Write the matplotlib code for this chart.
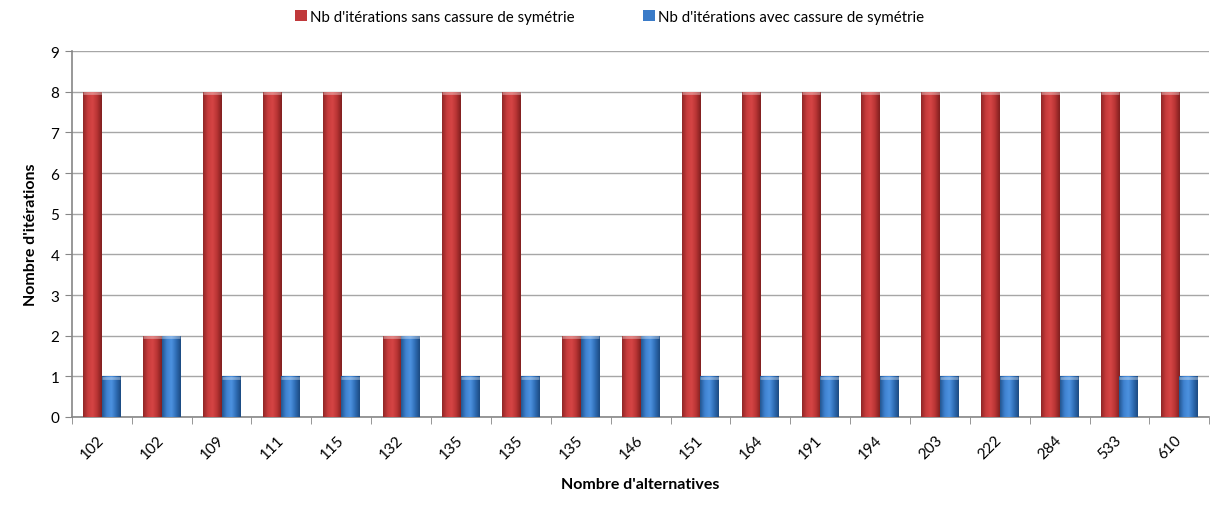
import matplotlib
matplotlib.use('Agg')
import matplotlib.pyplot as plt
from matplotlib.colors import LinearSegmentedColormap
import numpy as np

# données
categories = ['102', '102', '109', '111', '115', '132', '135', '135', '135', '146',
              '151', '164', '191', '194', '203', '222', '284', '533', '610']
sans_cassure = [8, 2, 8, 8, 8, 2, 8, 8, 2, 2, 8, 8, 8, 8, 8, 8, 8, 8, 8]
avec_cassure = [1, 2, 1, 1, 1, 2, 1, 1, 2, 2, 1, 1, 1, 1, 1, 1, 1, 1, 1]

plt.rcParams['font.family'] = ['Lato', 'DejaVu Sans']

fig = plt.figure(figsize=(12.19, 5.06), dpi=100)
ax = fig.add_axes([0.059, 0.174, 0.933, 0.723])

x = np.arange(len(categories))
w = 0.31

red_cmap = LinearSegmentedColormap.from_list('r', ['#8f2626', '#c73b3b', '#d64545', '#b83434', '#7f1f1f'])
blue_cmap = LinearSegmentedColormap.from_list('b', ['#22558f', '#3f82d0', '#4d92e0', '#2f6db5', '#1c4a80'])

bars_r = ax.bar(x - w / 2, sans_cassure, w, color='#c0393b', zorder=3, linewidth=0)
bars_b = ax.bar(x + w / 2, avec_cassure, w, color='#3a7bc8', zorder=3, linewidth=0)

grad = np.linspace(0, 1, 64).reshape(1, -1)
for bars, cmap in [(bars_r, red_cmap), (bars_b, blue_cmap)]:
    for b in bars:
        x0, y0 = b.get_x(), b.get_y()
        bw, bh = b.get_width(), b.get_height()
        im = ax.imshow(grad, cmap=cmap, aspect='auto', extent=[x0, x0 + bw, y0, y0 + bh],
                       zorder=4, interpolation='bicubic')
        im.set_clip_path(b)
        # petit chapeau clair en haut
        ax.plot([x0, x0 + bw], [y0 + bh - 0.04, y0 + bh - 0.04], color='white', alpha=0.35,
                lw=2, zorder=5, solid_capstyle='butt')

ax.set_xlim(-0.5, len(categories) - 0.5)
ax.set_ylim(0, 9)
ax.set_yticks(range(0, 10))
ax.yaxis.grid(True, color='#a6a6a6', linewidth=1, zorder=0)
ax.set_axisbelow(True)

ax.set_xticks(x)
ax.set_xticklabels(categories, rotation=45, ha='right', va='center', rotation_mode='anchor')
ax.set_xticks(np.arange(-0.5, len(categories), 1), minor=True)
ax.tick_params(axis='x', which='major', length=0, pad=15, labelsize=11)
ax.tick_params(axis='x', which='minor', length=5, color='#868686', direction='out')
ax.tick_params(axis='y', length=5, color='#868686', labelsize=11, pad=4)

for s in ['top', 'right']:
    ax.spines[s].set_visible(False)
for s in ['left', 'bottom']:
    ax.spines[s].set_color('#868686')
    ax.spines[s].set_linewidth(1.2)

ax.set_xlabel("Nombre d'alternatives", fontweight='bold', fontsize=11.5, labelpad=11)
ax.set_ylabel("Nombre d'itérations", fontweight='bold', fontsize=11.5, labelpad=9)

leg = fig.legend([bars_r, bars_b],
                 ["Nb d'itérations sans cassure de symétrie", "Nb d'itérations avec cassure de symétrie"],
                 loc='upper center', bbox_to_anchor=(0.5, 1.005), ncol=2, frameon=False,
                 fontsize=10.8, handlelength=0.8, handleheight=0.8, handletextpad=0.2,
                 columnspacing=4.6)

fig.savefig('out.png', dpi=100)
